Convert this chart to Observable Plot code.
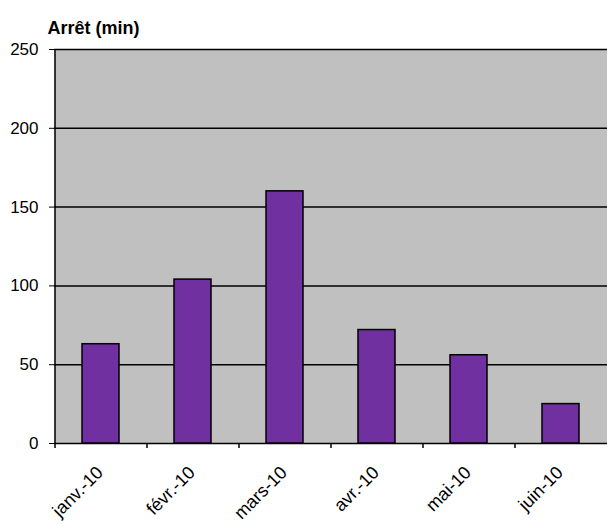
<!DOCTYPE html>
<html><head><meta charset="utf-8">
<script src="https://cdn.jsdelivr.net/npm/d3@7"></script>
<script src="https://cdn.jsdelivr.net/npm/@observablehq/plot@0.6"></script>
<style>body{margin:0;background:#fff}</style>
</head><body><div id="chart"></div>
<script>
const months = ["janv.-10","févr.-10","mars-10","avr.-10","mai-10","juin-10"];
const arret = [63,104,160,72,56,25];
const yTicks = [0,50,100,150,200,250];
const title = "Arrêt (min)";
const data = months.map((m,i)=>({month:m, value:arret[i]}));
const chart = Plot.plot({
  width:607, height:525, marginLeft:54, marginRight:0, marginTop:49, marginBottom:82,
  style:{fontFamily:"'Liberation Sans', Arial, sans-serif", background:"#fff", color:"#000"},
  x:{domain:months, paddingInner:0.6, paddingOuter:0.3, label:null},
  y:{domain:[0,250], label:null},
  marks:[
    Plot.frame({fill:"#c0c0c0", stroke:null}),
    Plot.ruleY(yTicks, {stroke:"#000", strokeWidth:1.5}),
    Plot.barY(data,{x:"month", y:"value", fill:"#7030a0", stroke:"#000", strokeWidth:1.5}),
    Plot.ruleX([months[0]], {dx:-46, stroke:"#000", strokeWidth:1.5}),
    Plot.ruleX(months, {dx:-46, y1:0, y2:0, insetBottom:-5, stroke:"#000", strokeWidth:1.5}),
    Plot.axisY({ticks:yTicks, tickSize:5, tickPadding:11, fontSize:17, stroke:"#000"}),
    Plot.axisX({tickSize:0, tickRotate:-45, tickPadding:26, dx:-1, fontSize:18}),
    Plot.text([title], {frameAnchor:"top-left", dx:-7, dy:-16, lineAnchor:"bottom", textAnchor:"start", fontSize:18, fontWeight:"bold"})
  ]
});
document.getElementById("chart").append(chart);
</script>
</body></html>
